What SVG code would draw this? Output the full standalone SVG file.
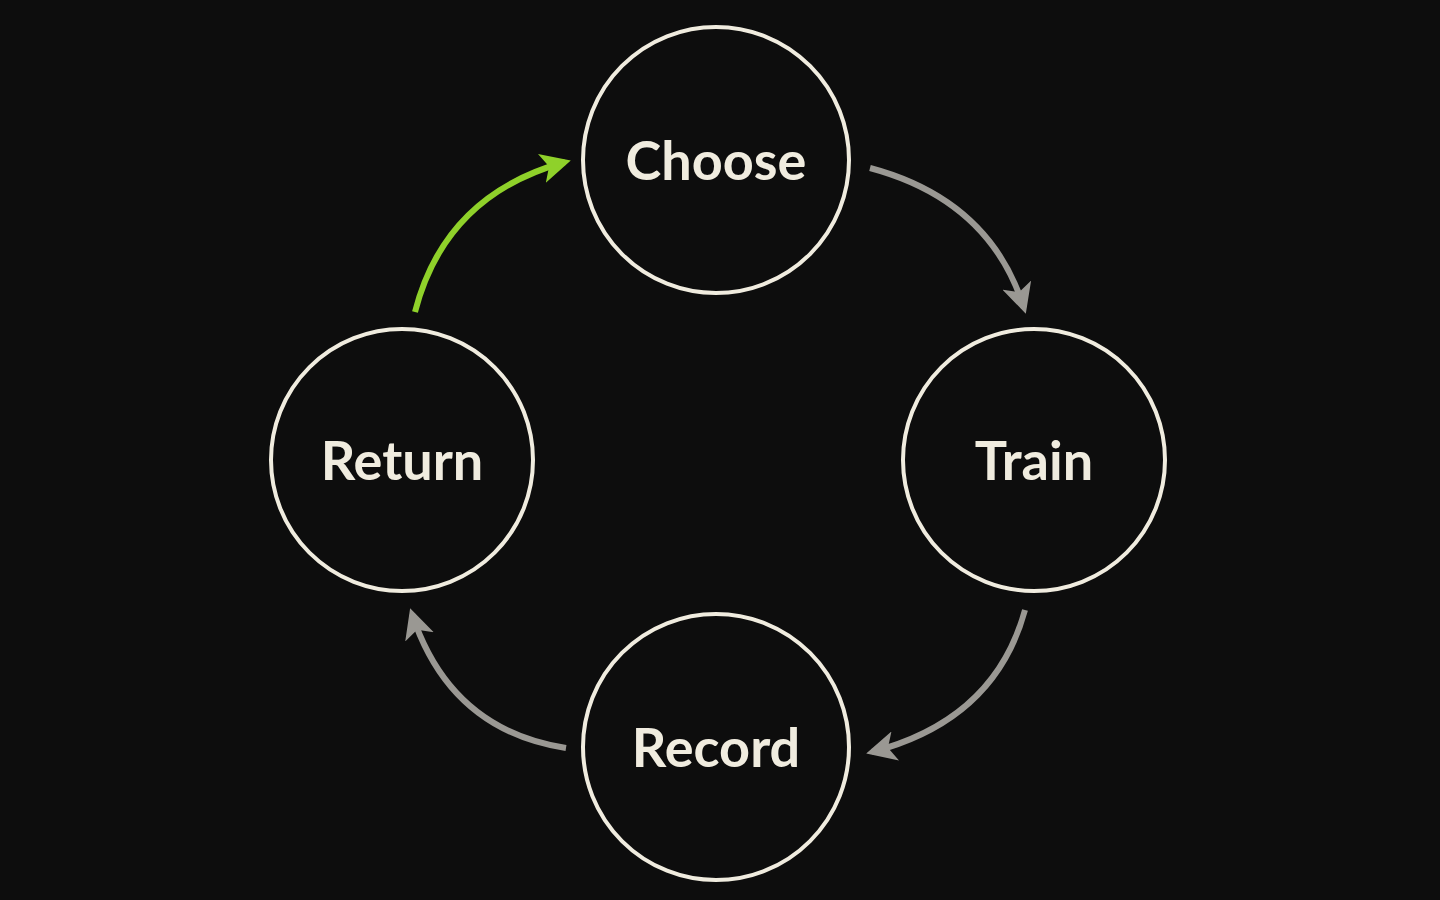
<svg xmlns="http://www.w3.org/2000/svg" width="1440" height="900" viewBox="0 0 1440 900">
<style>
.n{fill:#0d0d0d;stroke:#f0ecdf;stroke-width:4}
.t{fill:#f0ecdf;font-family:"Lato","Liberation Sans",sans-serif;font-weight:bold;font-size:54px;text-anchor:middle}
.c{fill:none;stroke:#9a9893;stroke-width:6}
.g{fill:none;stroke:#8fd12a;stroke-width:6}
</style>
<defs>
<marker id="ag" viewBox="0 0 10 10" refX="8" refY="5" markerWidth="5" markerHeight="5" orient="auto" markerUnits="strokeWidth"><path d="M0,0L10,5L0,10L2.5,5z" fill="#9a9893"/></marker>
<marker id="aG" viewBox="0 0 10 10" refX="8" refY="5" markerWidth="5" markerHeight="5" orient="auto" markerUnits="strokeWidth"><path d="M0,0L10,5L0,10L2.5,5z" fill="#8fd12a"/></marker>
</defs>
<rect width="1440" height="900" fill="#0d0d0d"/>
<g id="connectors">
<path class="c" d="M870,168 Q990,200 1024,308" marker-end="url(#ag)"/>
<path class="c" d="M1025,610 Q995,720 872,752" marker-end="url(#ag)"/>
<path class="c" d="M566,748 Q450,730 412,614" marker-end="url(#ag)"/>
<path class="g" d="M415,312 Q445,195 565,162" marker-end="url(#aG)"/>
</g>
<g id="choose"><circle class="n" cx="716" cy="160" r="133"/><text class="t" x="716" y="180">Choose</text></g>
<g id="train"><circle class="n" cx="1034" cy="460" r="131"/><text class="t" x="1034" y="480">Train</text></g>
<g id="return"><circle class="n" cx="402" cy="460" r="131"/><text class="t" x="402" y="480">Return</text></g>
<g id="record"><circle class="n" cx="716" cy="747" r="133"/><text class="t" x="716" y="767">Record</text></g>
</svg>
